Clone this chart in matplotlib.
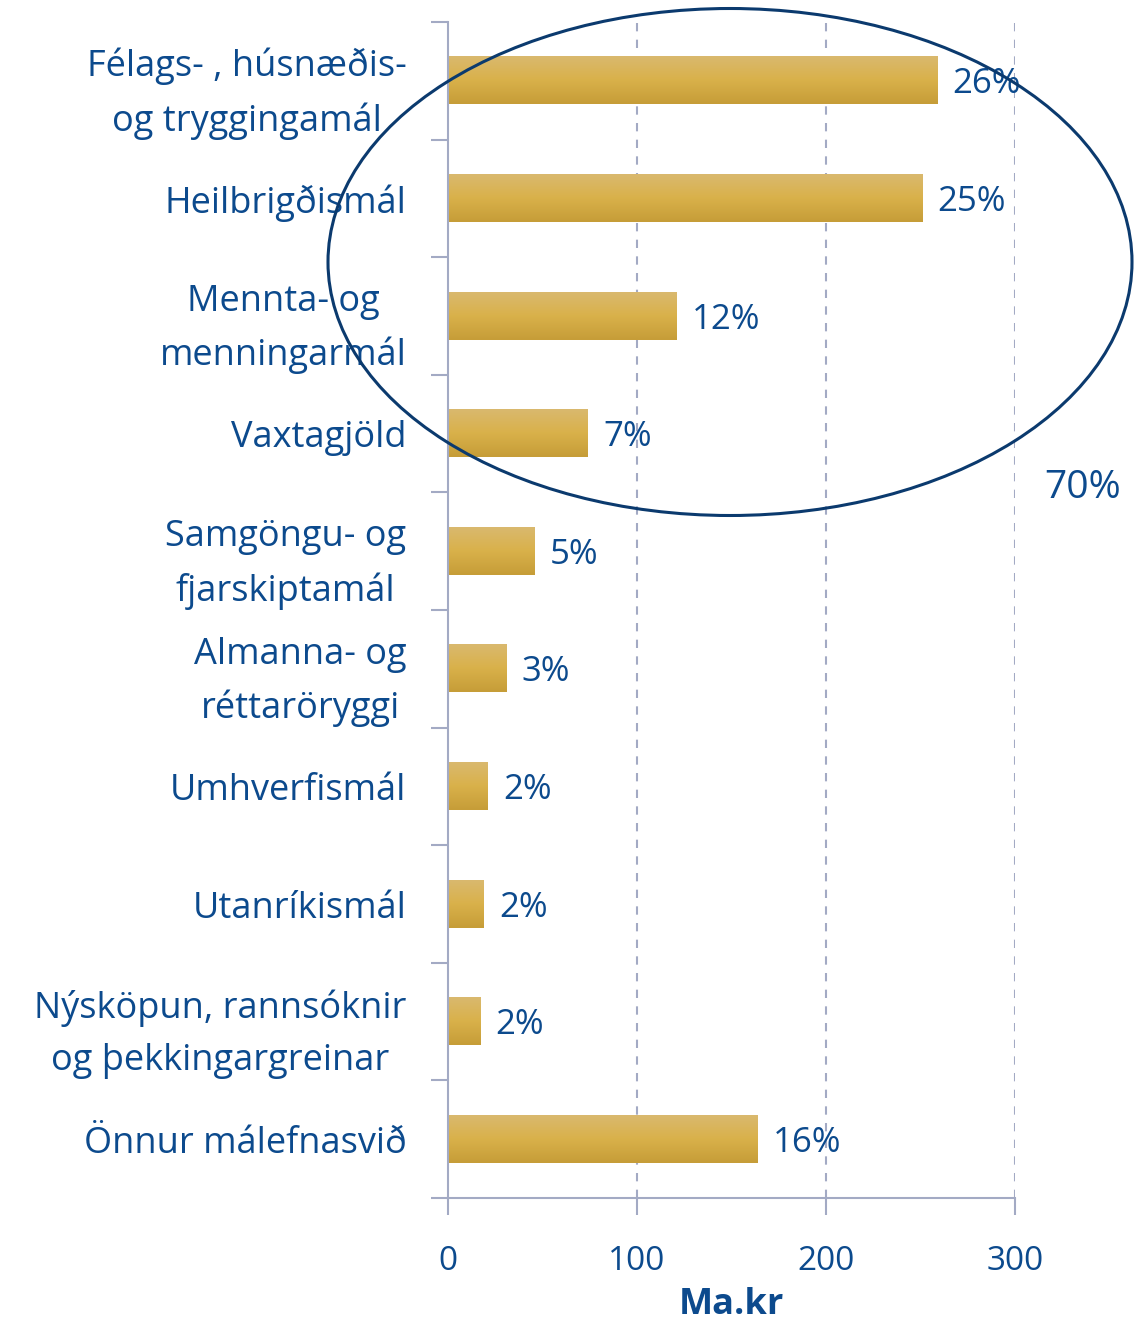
import numpy as np
import matplotlib
matplotlib.use("Agg")
import matplotlib.pyplot as plt
from matplotlib.patches import Ellipse
from matplotlib.colors import LinearSegmentedColormap

# data
categories = [
    "Félags- , húsnæðis-\nog tryggingamál",
    "Heilbrigðismál",
    "Mennta- og\nmenningarmál",
    "Vaxtagjöld",
    "Samgöngu- og\nfjarskiptamál",
    "Almanna- og\nréttaröryggi",
    "Umhverfismál",
    "Utanríkismál",
    "Nýsköpun, rannsóknir\nog þekkingargreinar",
    "Önnur málefnasvið",
]
values = [259, 251, 121, 74, 46, 31, 21, 19, 17, 164]
shares = ["26%", "25%", "12%", "7%", "5%", "3%", "2%", "2%", "2%", "16%"]
xticks = [0, 100, 200, 300]
circle_label = "70%"

TXT = "#0C4A8D"
AX = "#A3AAC4"
plt.rcParams['font.family'] = ['Open Sans', 'DejaVu Sans']

fig = plt.figure(figsize=(11.35, 13.3), dpi=100)
ax = fig.add_axes([448 / 1135, 1 - 1198 / 1330, (1015 - 448) / 1135, (1198 - 22) / 1330])

# gold gradient for the bars
gold = LinearSegmentedColormap.from_list("gold", ["#DAB96E", "#D9B14A", "#C69D38"])
grad = np.linspace(0, 1, 64).reshape(-1, 1)
bh = 0.4
for i, v in enumerate(values):
    ax.imshow(grad, cmap=gold, aspect='auto', extent=(0, v, i + bh / 2, i - bh / 2),
              zorder=2, interpolation='bilinear')
    ax.text(v + 8, i + 0.03, shares[i], color=TXT, fontsize=25, va='center', ha='left', zorder=4)

ax.set_xlim(0, 300)
ax.set_ylim(len(categories) - 0.5, -0.5)

for x in xticks[1:]:
    ax.axvline(x, color=AX, lw=1.5, ls=(0, (4, 4)), zorder=1)

ax.set_xticks(xticks)
ax.set_xticklabels([str(t) for t in xticks], color=TXT, fontsize=24)
ax.tick_params(axis='x', length=12, width=1.5, color=AX, pad=22)
ax.set_xlabel("Ma.kr", color=TXT, fontsize=26, fontweight='bold', labelpad=6)

ax.set_yticks(range(len(categories)))
ax.set_yticklabels(categories, color=TXT, fontsize=26, multialignment='center', linespacing=1.6)
ax.tick_params(axis='y', length=0, pad=30)
ax.set_yticks(np.arange(-0.5, len(categories), 1), minor=True)
ax.tick_params(axis='y', which='minor', length=12, width=1.5, color=AX)

for s in ['top', 'right']:
    ax.spines[s].set_visible(False)
for s in ['left', 'bottom']:
    ax.spines[s].set_color(AX)
    ax.spines[s].set_linewidth(1.5)

# ellipse around the four biggest items
ell = Ellipse((730 / 1135, 1 - 262 / 1330), 804 / 1135, 507 / 1330,
              transform=fig.transFigure, fill=False, edgecolor="#0B3A6E", lw=2.2, zorder=5)
fig.patches.append(ell)
fig.text(1083 / 1135, 1 - 488 / 1330, circle_label, color=TXT, fontsize=28, ha='center', va='center')

fig.savefig("out.png", dpi=100)
